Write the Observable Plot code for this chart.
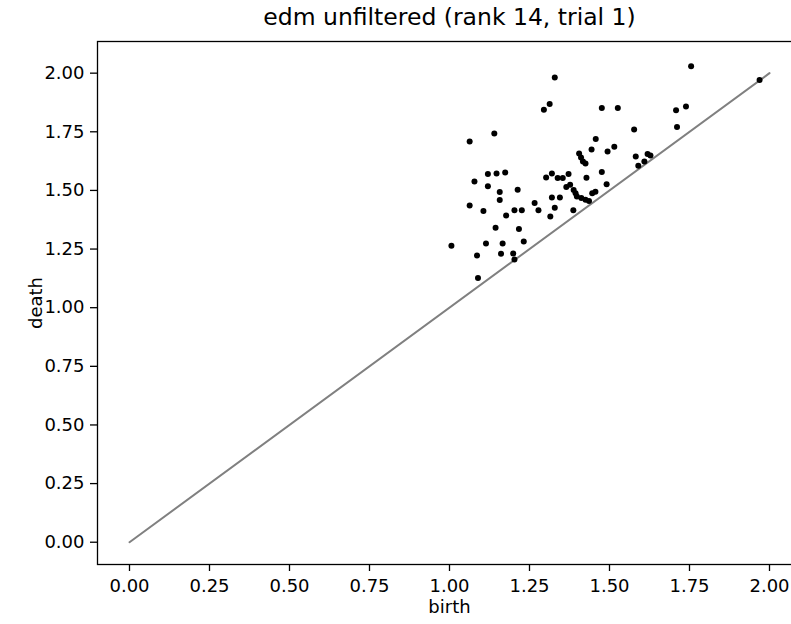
<!DOCTYPE html>
<html>
<head>
<meta charset="utf-8">
<script src="https://cdn.jsdelivr.net/npm/d3@7"></script>
<script src="https://cdn.jsdelivr.net/npm/@observablehq/plot@0.6"></script>
<style>
  html, body { margin: 0; padding: 0; background: #fff; overflow: hidden; }
  #wrap { width: 791px; height: 624px; overflow: hidden; }
  #wrap svg { max-width: none !important; display: block; }
</style>
</head>
<body>
<div id="wrap"></div>
<script>
const title = "edm unfiltered (rank 14, trial 1)";
const xLabel = "birth";
const yLabel = "death";
const tickValues = [0, 0.25, 0.5, 0.75, 1.0, 1.25, 1.5, 1.75, 2.0];

const birth = [
  1.329, 1.313, 1.295, 1.140, 1.063, 1.120, 1.147, 1.174, 1.078, 1.302,
  1.320, 1.338, 1.354, 1.372, 1.120, 1.157, 1.157, 1.213, 1.063, 1.106,
  1.177, 1.203, 1.226, 1.266, 1.278, 1.320, 1.345, 1.329, 1.315, 1.144,
  1.217, 1.114, 1.166, 1.232, 1.006, 1.086, 1.161, 1.199, 1.203, 1.089,
  1.755, 1.476, 1.526, 1.708, 1.739, 1.711, 1.577, 1.457, 1.444, 1.515,
  1.494, 1.405, 1.411, 1.417, 1.425, 1.582, 1.619, 1.628, 1.590, 1.609,
  1.476, 1.428, 1.365, 1.377, 1.388, 1.394, 1.398, 1.412, 1.425, 1.436,
  1.446, 1.456, 1.491, 1.387, 1.969
];
const death = [
  1.981, 1.868, 1.844, 1.743, 1.709, 1.570, 1.572, 1.576, 1.538, 1.555,
  1.572, 1.553, 1.553, 1.570, 1.518, 1.493, 1.459, 1.503, 1.436, 1.412,
  1.393, 1.416, 1.416, 1.446, 1.416, 1.470, 1.470, 1.426, 1.389, 1.341,
  1.335, 1.274, 1.274, 1.282, 1.264, 1.223, 1.230, 1.231, 1.206, 1.127,
  2.029, 1.851, 1.851, 1.842, 1.858, 1.770, 1.760, 1.719, 1.675, 1.686,
  1.666, 1.657, 1.640, 1.623, 1.615, 1.645, 1.655, 1.649, 1.605, 1.623,
  1.579, 1.554, 1.515, 1.524, 1.502, 1.488, 1.474, 1.468, 1.460, 1.455,
  1.488, 1.494, 1.526, 1.416, 1.971
];
const diagX = [0, 2];
const diagY = [0, 2];

const points = birth.map((b, i) => ({birth: b, death: death[i]}));
const diag = diagX.map((x, i) => ({x, y: diagY[i]}));

const fmt = d3.format(".2f");

const chart = Plot.plot({
  width: 801,
  height: 624,
  marginLeft: 97,
  marginRight: 0,
  marginTop: 41,
  marginBottom: 60,
  style: { fontFamily: "DejaVu Sans", color: "#000", background: "#fff", maxWidth: "none" },
  x: { domain: [-0.1, 2.1] },
  y: { domain: [-0.095, 2.135] },
  marks: [
    Plot.line(diag, { x: "x", y: "y", stroke: "#808080", strokeWidth: 2 }),
    Plot.dot(points, { x: "birth", y: "death", r: 3, fill: "#000", stroke: "none" }),
    Plot.frame({ stroke: "#000", strokeWidth: 1.3 }),
    Plot.axisX({ ticks: tickValues, tickFormat: fmt, tickSize: 7, tickPadding: 8, fontSize: 18, strokeWidth: 1.3, label: null }),
    Plot.axisY({ ticks: tickValues, tickFormat: fmt, tickSize: 7, tickPadding: 6, fontSize: 18, strokeWidth: 1.3, label: null }),
    Plot.text([xLabel], { frameAnchor: "bottom", dy: 43, lineAnchor: "middle", textAnchor: "middle", fontSize: 18, fill: "#000" }),
    Plot.text([yLabel], { frameAnchor: "left", dx: -61, rotate: -90, lineAnchor: "middle", textAnchor: "middle", fontSize: 18, fill: "#000" }),
    Plot.text([title], { frameAnchor: "top", dy: -24, lineAnchor: "middle", textAnchor: "middle", fontSize: 23.5, fill: "#000" })
  ]
});

document.getElementById("wrap").appendChild(chart);
</script>
</body>
</html>
